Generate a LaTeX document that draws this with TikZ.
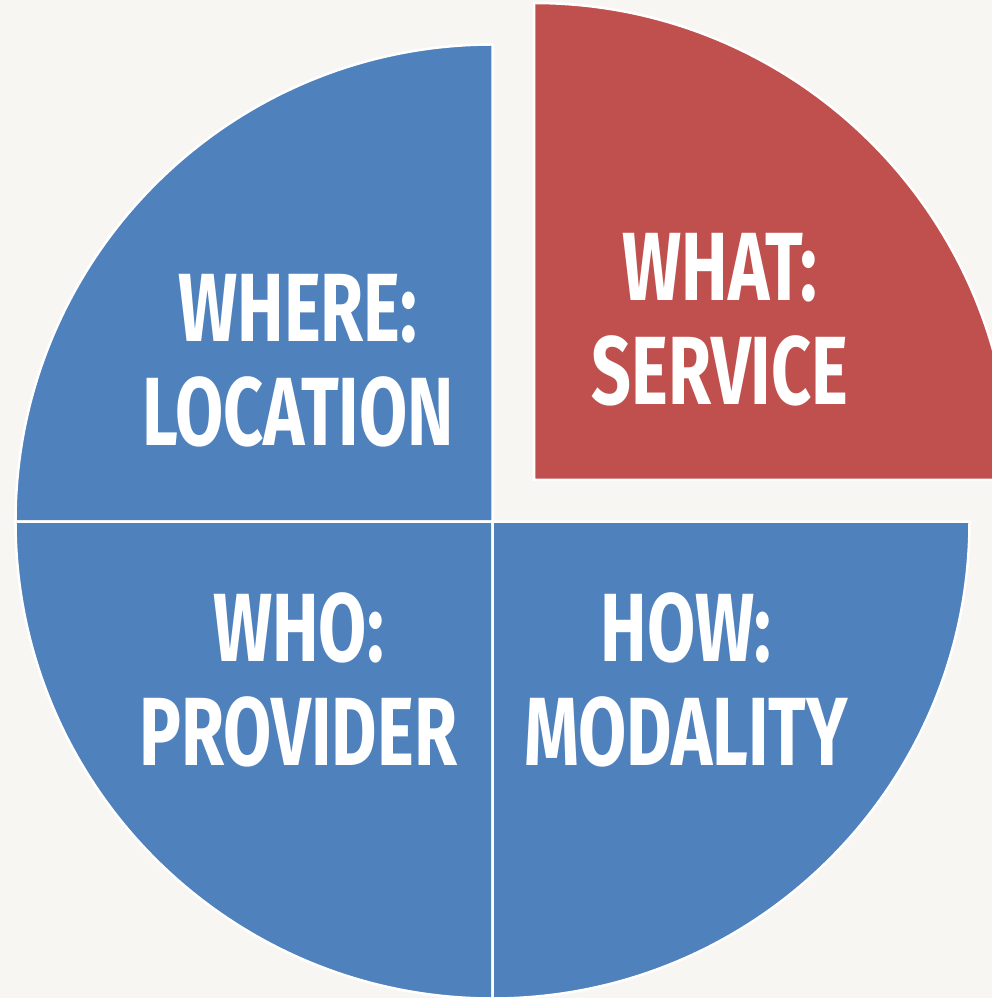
\documentclass[tikz,border=0pt]{standalone}
\usepackage{fontspec}
\setmainfont[FakeStretch=0.72]{Fira Sans}
\definecolor{pageback}{HTML}{F7F6F2}
\definecolor{sliceblue}{HTML}{4F81BD}
\definecolor{slicered}{HTML}{C0504D}
\tikzset{
    every node/.style = {
        inner sep = 0pt,
        outer sep = 0pt
    },
    slice/.style = {
        draw = white,
        line width = 2.5pt,
        line join = miter
    },
    slicelabel/.style = {
        align = center,
        text = white,
        font = \fontsize{97}{104}\selectfont\bfseries
    }
}

\begin{document}
\begin{tikzpicture}[x=1pt,y=1pt]
    \useasboundingbox (-492.5,-476.5) rectangle (499.5,521.5);
    \clip (-492.5,-476.5) rectangle (499.5,521.5);
    \fill[pageback] (-492.5,-476.5) rectangle (499.5,521.5);
    % the three blue quarters
    \filldraw[slice, fill=sliceblue] (0,0) -- (180:477) arc (180:90:477) -- cycle;
    \filldraw[slice, fill=sliceblue] (0,0) -- (180:477) arc (180:270:477) -- cycle;
    \filldraw[slice, fill=sliceblue] (0,0) -- (270:477) arc (270:360:477) -- cycle;
    % the pulled-out red quarter
    \filldraw[slice, fill=slicered, shift={(41.5,41.5)}] (0,0) -- (0:477) arc (0:90:477) -- cycle;
    \node (where) at (-194.5,160.5) [slicelabel]{WHERE:\\LOCATION};
    \node (what) at (227.5,201.5) [slicelabel]{WHAT:\\SERVICE};
    \node (who) at (-194,-158.5) [slicelabel]{WHO:\\PROVIDER};
    \node (how) at (193.5,-158.5) [slicelabel]{HOW:\\MODALITY};
\end{tikzpicture}
\end{document}
